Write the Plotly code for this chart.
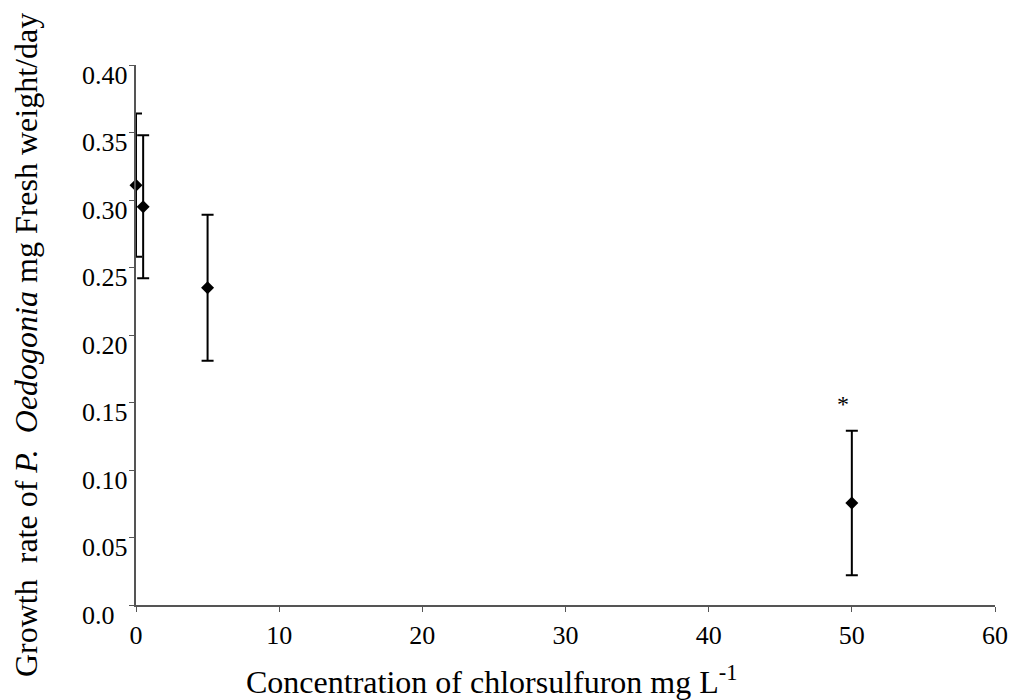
import plotly.graph_objects as go

# Data
concentration = [0, 0.5, 5, 50]
growth_rate = [0.311, 0.295, 0.235, 0.0755]
error = [0.053, 0.053, 0.054, 0.0535]
significant = [False, False, False, True]

y_tick_vals = [0.0, 0.05, 0.10, 0.15, 0.20, 0.25, 0.30, 0.35, 0.40]
y_tick_text = ["0.0", "0.05", "0.10", "0.15", "0.20", "0.25", "0.30", "0.35", "0.40"]
x_tick_vals = [0, 10, 20, 30, 40, 50, 60]
x_tick_text = ["0", "10", "20", "30", "40", "50", "60"]

FONT = "Liberation Serif, Times New Roman, serif"
W, H = 1012, 700
ML, MR, MT, MB = 136, 17, 65, 95
PW = W - ML - MR
PH = H - MT - MB


def px_to_paper_x(px):
    return (px - ML) / PW


def px_to_paper_y(py):
    return (H - MB - py) / PH


fig = go.Figure()
fig.add_trace(go.Scatter(
    x=concentration, y=growth_rate,
    mode="markers",
    marker=dict(symbol="diamond", size=10, color="black"),
    error_y=dict(type="data", array=error, visible=True, color="black",
                 thickness=2, width=6),
    cliponaxis=False,
    showlegend=False,
))

annotations = []
# y tick labels (left aligned, as in the reference)
for v, t in zip(y_tick_vals, y_tick_text):
    annotations.append(dict(
        x=px_to_paper_x(80), xref="paper", y=v, yref="y",
        text=t, showarrow=False, xanchor="left", yanchor="middle",
        yshift=-10, font=dict(family=FONT, size=26, color="black")))

# significance marker
for xv, yv, e, s in zip(concentration, growth_rate, error, significant):
    if s:
        annotations.append(dict(
            x=xv, y=yv + e, xref="x", yref="y", text="*", showarrow=False,
            xanchor="center", yanchor="bottom", xshift=-9, yshift=12,
            font=dict(family=FONT, size=24, color="black")))

# axis titles
annotations.append(dict(
    x=px_to_paper_x(491), y=px_to_paper_y(680), xref="paper", yref="paper",
    text="Concentration of chlorsulfuron mg L<sup>-1</sup>", showarrow=False,
    xanchor="center", yanchor="middle",
    font=dict(family=FONT, size=32, color="black")))
annotations.append(dict(
    x=px_to_paper_x(26), y=px_to_paper_y(345), xref="paper", yref="paper",
    text="Growth  rate of <i>P.</i>  <i>Oedogonia</i> mg Fresh weight/day",
    showarrow=False, textangle=-90, xanchor="center", yanchor="middle",
    font=dict(family=FONT, size=32, color="black")))

fig.update_layout(
    width=W, height=H,
    margin=dict(l=ML, r=MR, t=MT, b=MB, pad=0, autoexpand=False),
    paper_bgcolor="white", plot_bgcolor="white",
    font=dict(family=FONT, size=25, color="black"),
    annotations=annotations,
    xaxis=dict(range=[0, 60], tickvals=x_tick_vals, ticktext=x_tick_text,
               automargin=False,
               showgrid=False, zeroline=False, showline=True,
               linecolor="#555555", linewidth=1.5,
               ticks="outside", ticklen=5, tickcolor="#555555",
               tickfont=dict(family=FONT, size=26, color="black"),
               ticklabelstandoff=1),
    yaxis=dict(range=[0, 0.40], tickvals=y_tick_vals,
               showticklabels=False, automargin=False,
               showgrid=False, zeroline=False, showline=True,
               linecolor="#555555", linewidth=1.5,
               ticks="outside", ticklen=5, tickcolor="#555555"),
)

fig.write_html("out.html")
